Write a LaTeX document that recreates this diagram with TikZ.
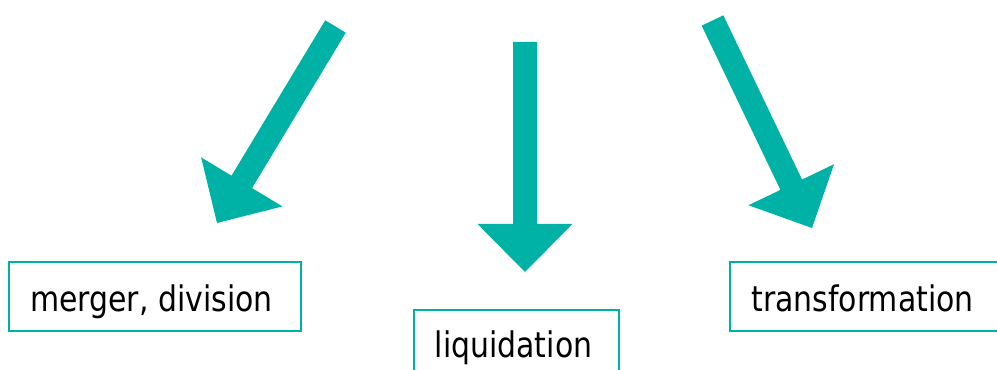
\documentclass[tikz,border=0pt]{standalone}
\usepackage{fontspec}
\setmainfont[FakeStretch=0.85]{DejaVu Sans}
\usetikzlibrary{calc}
\definecolor{tealc}{RGB}{0,178,166}
\tikzset{
  box/.style={draw=tealc, line width=1.5pt, rectangle, inner sep=0pt},
  lbl/.style={inner sep=0pt, anchor=base, font=\fontsize{26.4pt}{30pt}\selectfont, text=black},
}
\newcommand{\blockarrow}[3]{%
  \coordinate (#3h) at ($(#2)!36pt!(#1)$);
  \fill[tealc] ($(#1)!9pt!90:(#2)$) -- ($(#3h)!9pt!90:(#2)$) -- ($(#3h)!35.6pt!90:(#2)$)
    -- (#2) -- ($(#3h)!35.6pt!-90:(#2)$) -- ($(#3h)!9pt!-90:(#2)$) -- ($(#1)!9pt!-90:(#2)$) -- cycle;
}
\begin{document}
\begin{tikzpicture}[x=0.75pt,y=-0.75pt]
\clip (0,0) rectangle (997,370);
\fill[white] (0,0) rectangle (997,370);
% arrows
\coordinate (a1t) at (335.5,26.5);
\coordinate (a1p) at (217,223);
\coordinate (a2t) at (525,42);
\coordinate (a2p) at (525,272);
\coordinate (a3t) at (712.5,20.5);
\coordinate (a3p) at (812,228);
\blockarrow{a1t}{a1p}{a1}
\blockarrow{a2t}{a2p}{a2}
\blockarrow{a3t}{a3p}{a3}
% boxes
\node[box, minimum width=292*0.75pt, minimum height=69*0.75pt] (b1) at (155,296.5) {};
\node[box, minimum width=205*0.75pt, minimum height=69*0.75pt] (b2) at (516.5,344.5) {};
\node[box, minimum width=279*0.75pt, minimum height=69*0.75pt] (b3) at (869.5,296.5) {};
\node[lbl] (t1) at (151.5,312) {merger, division};
\node[lbl] (t2) at (513.5,358) {liquidation};
\node[lbl] (t3) at (862.5,312) {transformation};
\end{tikzpicture}
\end{document}
